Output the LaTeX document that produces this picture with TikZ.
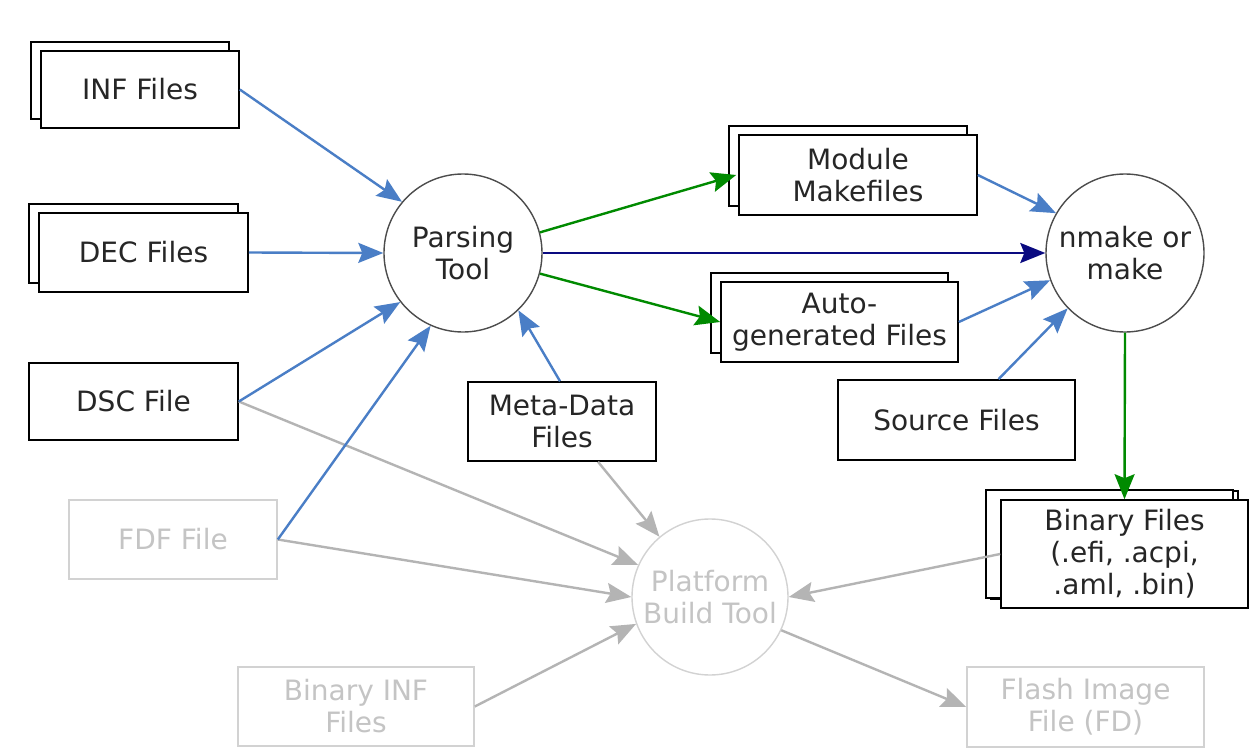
\documentclass[tikz,border=0pt]{standalone}
\usepackage{fontspec}
\setmainfont{DejaVu Sans}
\usetikzlibrary{arrows.meta,shadows}
\definecolor{txt}{HTML}{262626}
\definecolor{barrow}{HTML}{4A7EC6}
\definecolor{garrow}{HTML}{008A00}
\definecolor{narrow}{HTML}{0A0A80}
\definecolor{grayarrow}{HTML}{B4B4B4}
\definecolor{lightbox}{HTML}{D2D2D2}
\definecolor{lighttxt}{HTML}{C4C4C4}
\tikzset{
  lbl/.style={font=\fontsize{28}{32}\selectfont, align=center, text=txt},
  filebox/.style={lbl, draw=black, fill=white, line width=1.6pt, rectangle, inner sep=0pt},
  stackbox/.style={filebox, copy shadow={shadow xshift=-10pt, shadow yshift=9pt, fill=white, draw=black, line width=1.6pt}},
  ghostbox/.style={lbl, draw=lightbox, fill=white, line width=1.6pt, rectangle, inner sep=0pt, text=lighttxt},
  toolcircle/.style={lbl, circle, draw=black!70, fill=white, line width=1.4pt, minimum size=158pt, inner sep=0pt},
  ghostcircle/.style={lbl, circle, draw=lightbox, fill=white, line width=1.4pt, minimum size=156pt, inner sep=0pt, text=lighttxt},
  tip/.style={-{Stealth[length=25pt,width=20pt,inset=4pt]}, line width=2.4pt},
  bluearr/.style={tip, draw=barrow, color=barrow},
  greenarr/.style={tip, draw=garrow, color=garrow},
  navyarr/.style={tip, draw=narrow, color=narrow},
  grayarr/.style={tip, draw=grayarrow, color=grayarrow},
}
\begin{document}
\begin{tikzpicture}[x=1pt,y=-1pt]
\useasboundingbox (0,0) rectangle (1258,749);
\fill[white] (0,0) rectangle (1258,749);

% left column
\node[stackbox, minimum width=198pt, minimum height=77pt] (inf) at (140,89.5) {INF Files};
\node[stackbox, minimum width=209pt, minimum height=79pt] (dec) at (143.5,252.5) {DEC Files};
\node[filebox, minimum width=209pt, minimum height=77pt] (dsc) at (133.5,401.5) {DSC File};
\node[ghostbox, minimum width=208pt, minimum height=79pt] (fdf) at (173,539.5) {FDF File};
\node[ghostbox, minimum width=236pt, minimum height=79pt] (binf) at (356,706.5) {Binary INF\\Files};

% middle
\node[toolcircle] (parse) at (463,253) {Parsing\\Tool};
\node[filebox, minimum width=188pt, minimum height=79pt] (meta) at (562,421.5) {Meta-Data\\Files};
\node[ghostcircle] (plat) at (710,597) {Platform\\Build Tool};

% right
\node[stackbox, minimum width=238pt, minimum height=80pt] (mod) at (858,175) {Module\\Makefiles};
\node[stackbox, minimum width=237pt, minimum height=80pt] (auto) at (839.5,322) {Auto-\\generated Files};
\node[toolcircle] (nmake) at (1125,253) {nmake or\\make};
\node[filebox, minimum width=237pt, minimum height=80pt] (src) at (956.5,420) {Source Files};
\node[stackbox, minimum width=247pt, minimum height=108pt, copy shadow={shadow xshift=-15pt, shadow yshift=10pt, fill=white, draw=black, line width=1.6pt}] (bin) at (1124.5,554) {Binary Files\\(.efi, .acpi,\\.aml, .bin)};
\node[ghostbox, minimum width=237pt, minimum height=80pt] (flash) at (1085.5,707) {Flash Image\\File (FD)};

% gray arrows
\draw[grayarr] (dsc.east) -- (plat.156);
\draw[grayarr] (fdf.east) -- (plat.180);
\draw[grayarr] ([xshift=36pt]meta.south) -- (plat.130);
\draw[grayarr] (binf.east) -- (plat.200);
\draw[grayarr] (bin.west) -- (plat.0);
\draw[grayarr] (plat.335) -- (flash.west);

% blue arrows into parsing tool
\draw[bluearr] (inf.east) -- (parse.140);
\draw[bluearr] (dec.east) -- (parse.180);
\draw[bluearr] (dsc.east) -- (parse.218);
\draw[bluearr] (fdf.east) -- (parse.246);
\draw[bluearr] ([xshift=-2pt]meta.north) -- (parse.314);

% parsing tool outputs
\draw[greenarr] (parse.15) -- ([xshift=-2pt]mod.west);
\draw[navyarr] (parse.0) -- (nmake.180);
\draw[greenarr] (parse.-15) -- (auto.west);

% into nmake
\draw[bluearr] (mod.east) -- (nmake.150);
\draw[bluearr] (auto.east) -- (nmake.200);
\draw[bluearr] ([xshift=42pt]src.north) -- (nmake.224);

% nmake to binaries
\draw[greenarr] (nmake.south) -- (bin.north);
\end{tikzpicture}
\end{document}
